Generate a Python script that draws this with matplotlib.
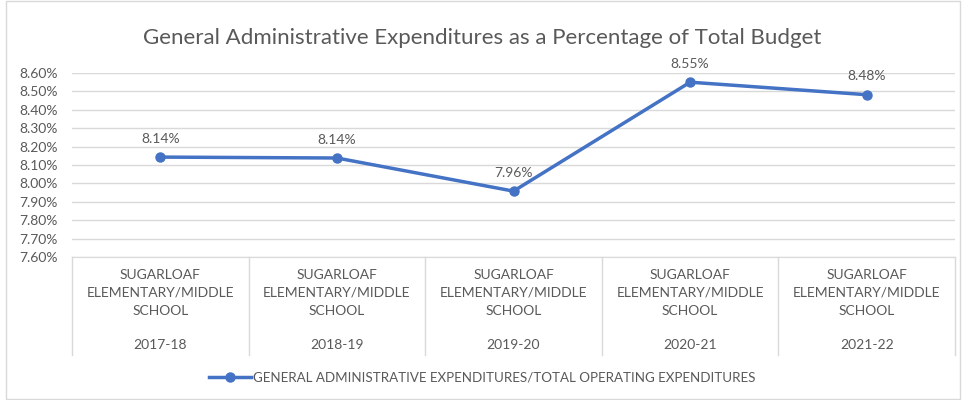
import matplotlib.pyplot as plt
from matplotlib.patches import Rectangle
from matplotlib.ticker import FuncFormatter

plt.rcParams['font.family'] = ['Lato', 'DejaVu Sans']

# 数据
school = 'SUGARLOAF\nELEMENTARY/MIDDLE\nSCHOOL'
years = ['2017-18', '2018-19', '2019-20', '2020-21', '2021-22']
pct = [8.143, 8.138, 7.958, 8.550, 8.482]
labels = ['8.14%', '8.14%', '7.96%', '8.55%', '8.48%']
series_name = 'GENERAL ADMINISTRATIVE EXPENDITURES/TOTAL OPERATING EXPENDITURES'
yticks = [7.6 + 0.1 * i for i in range(11)]

txt = '#595959'
grid = '#d9d9d9'
blue = '#4472c4'

fig = plt.figure(figsize=(9.64, 4.0), dpi=100)
fig.patches.append(Rectangle((0.006, 0.003), 0.99, 0.994, transform=fig.transFigure,
                             fill=False, edgecolor=grid, linewidth=1))
ax = fig.add_axes([0.0747, 0.3575, 0.916, 0.46])

x = list(range(len(years)))
ax.plot(x, pct, color=blue, linewidth=2.5, marker='o', markersize=6.5, zorder=3)
for xi, yi, lab in zip(x, pct, labels):
    ax.annotate(lab, (xi, yi), xytext=(0, 9), textcoords='offset points',
                ha='center', va='bottom', fontsize=10, color=txt)

ax.set_xlim(-0.5, len(years) - 0.5)
ax.set_ylim(7.6, 8.6)
ax.set_yticks(yticks)
ax.yaxis.set_major_formatter(FuncFormatter(lambda v, p: f'{v:.2f}%'))
ax.tick_params(axis='y', length=0, labelsize=10, labelcolor=txt, pad=10)
ax.set_xticks([])
ax.grid(axis='y', color=grid, linewidth=1)
ax.set_axisbelow(True)
for s in ['top', 'right', 'left']:
    ax.spines[s].set_visible(False)
ax.spines['bottom'].set_color(grid)

# 多级分类标签
trans = ax.get_xaxis_transform()
for b in range(len(years) + 1):
    ax.plot([b - 0.5, b - 0.5], [0, -0.535], transform=trans, color=grid,
            linewidth=1, clip_on=False)
for xi, yr in zip(x, years):
    ax.text(xi, -0.065, school, transform=trans, ha='center', va='top',
            fontsize=10, color=txt, linespacing=1.6)
    ax.text(xi, -0.48, yr, transform=trans, ha='center', va='center',
            fontsize=10, color=txt)

fig.text(0.5, 0.905, 'General Administrative Expenditures as a Percentage of Total Budget',
         ha='center', va='center', fontsize=16, color=txt)

# 图例
fig.legend([ax.lines[0]], [series_name], loc='center', bbox_to_anchor=(0.5, 0.055),
           frameon=False, fontsize=9.6, labelcolor=txt, handlelength=3.2,
           handletextpad=0.1)

fig.savefig('out.png', dpi=100)
